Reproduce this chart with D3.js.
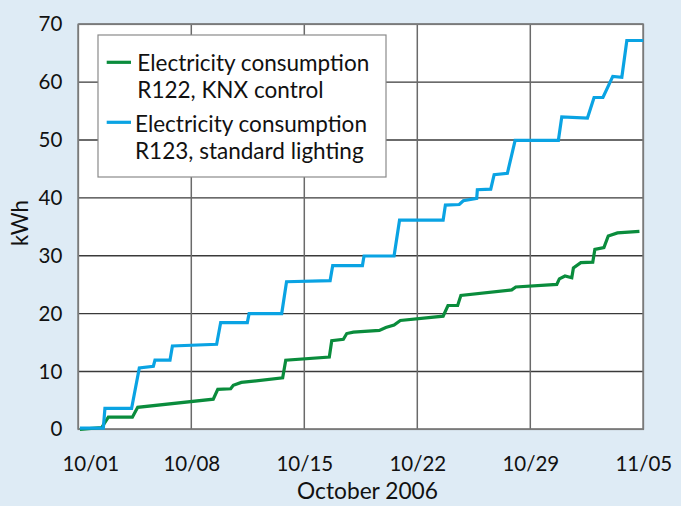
<!DOCTYPE html>
<html>
<head>
<meta charset="utf-8">
<script src="https://cdn.jsdelivr.net/npm/d3@7"></script>
<style>
  html, body { margin: 0; padding: 0; background: #deebf5; }
  svg { display: block; }
  text { font-family: Lato, "Open Sans", sans-serif; fill: #111; }
</style>
</head>
<body>
<svg id="chart" width="681" height="506"></svg>
<script>
// ---- data (days since 10/01 00:00, kWh) ----
const xTickDays = [0, 7, 14, 21, 28, 35];
const xTickLabels = ["10/01", "10/08", "10/15", "10/22", "10/29", "11/05"];
const yTicks = [0, 10, 20, 30, 40, 50, 60, 70];

const knxDays = [0.1, 1.45, 1.86, 3.35, 3.68, 8.36, 8.64, 9.44, 9.6, 10.1, 12.66, 12.85, 15.55, 15.7, 16.42, 16.63, 17.04, 18.65, 19.05, 19.56, 19.95, 22.6, 22.9, 23.5, 23.7, 26.85, 27.1, 29.64, 29.8, 30.15, 30.57, 30.67, 31.13, 31.87, 32.0, 32.56, 32.83, 33.4, 34.76];
const knxValues = [0, 0.3, 2.1, 2.1, 3.8, 5.2, 6.9, 7.0, 7.6, 8.1, 8.9, 11.95, 12.5, 15.3, 15.55, 16.55, 16.8, 17.1, 17.6, 18.0, 18.8, 19.55, 21.4, 21.4, 23.15, 24.1, 24.6, 25.05, 26.0, 26.5, 26.2, 27.9, 28.8, 28.9, 31.1, 31.4, 33.4, 33.95, 34.2];

const stdDays = [0.1, 1.55, 1.65, 3.3, 3.78, 4.65, 4.75, 5.68, 5.83, 8.57, 8.82, 10.47, 10.58, 12.6, 12.9, 15.6, 15.76, 17.6, 17.7, 19.56, 19.9, 22.6, 22.74, 23.6, 23.85, 24.68, 24.72, 25.55, 25.76, 26.58, 27.06, 29.74, 29.95, 31.54, 31.95, 32.5, 33.11, 33.67, 33.98, 35.0];
const stdValues = [0.2, 0.2, 3.6, 3.6, 10.6, 10.9, 11.95, 11.95, 14.4, 14.7, 18.45, 18.45, 20.0, 20.0, 25.5, 25.7, 28.3, 28.3, 29.95, 29.95, 36.15, 36.15, 38.75, 38.85, 39.5, 39.9, 41.4, 41.5, 44.0, 44.25, 49.95, 49.95, 54.0, 53.8, 57.35, 57.35, 61.0, 60.85, 67.2, 67.2];

const seriesNames = [
  ["Electricity consumption", "R122, KNX control"],
  ["Electricity consumption", "R123, standard lighting"]
];
const seriesColors = ["#0a8c3c", "#0aa3e3"];
const yLabel = "kWh";
const xTitle = "October 2006";

(function () {
const svg = d3.select("#chart");
const pL = 78.3, pR = 643.3, pT = 24.3, pB = 429.3;
const x = d3.scaleLinear().domain([0, 35]).range([pL, pR]);
const y = d3.scaleLinear().domain([0, 70]).range([pB, pT]);

function fit(sel, refNode, target) {
  sel.style("font-size", "20px");
  const w = refNode.getComputedTextLength();
  sel.style("font-size", (20 * target / w) + "px");
}

svg.append("rect").attr("x", pL).attr("y", pT)
  .attr("width", pR - pL).attr("height", pB - pT).attr("fill", "#fff");

// grid
const g = svg.append("g");
g.selectAll("line.h").data(yTicks).join("line")
  .attr("x1", pL).attr("x2", pR)
  .attr("y1", d => y(d)).attr("y2", d => y(d))
  .attr("stroke", "#3a3a3a").attr("stroke-width", 1.4);
g.selectAll("line.v").data(xTickDays).join("line")
  .attr("y1", pT).attr("y2", pB)
  .attr("x1", d => x(d)).attr("x2", d => x(d))
  .attr("stroke", "#6a6a6a").attr("stroke-width", 1.5);
svg.append("rect").attr("x", pL).attr("y", pT)
  .attr("width", pR - pL).attr("height", pB - pT)
  .attr("fill", "none").attr("stroke", "#7a7a7a").attr("stroke-width", 1.6);

// axes (labels only)
const yAxis = d3.axisLeft(y).tickValues(yTicks).tickSize(0).tickPadding(16);
const ya = svg.append("g").attr("transform", `translate(${pL},0)`).call(yAxis);
ya.select(".domain").remove();
ya.selectAll("text").style("font-family", "Lato, sans-serif").style("font-size", "20.5px").attr("fill", "#111");

const xAxis = d3.axisBottom(x).tickValues(xTickDays).tickSize(0).tickPadding(27)
  .tickFormat((d, i) => xTickLabels[i]);
const xa = svg.append("g").attr("transform", `translate(0,${pB})`).call(xAxis);
xa.select(".domain").remove();
xa.selectAll("text").style("font-family", "Lato, sans-serif").style("font-size", "20.5px").attr("fill", "#111")
  .attr("dx", (d, i) => i === 0 ? 12 : 0);

const tt = svg.append("text").attr("x", 367.5).attr("y", 499).attr("text-anchor", "middle").text(xTitle);
fit(tt, tt.node(), 141);
const kt = svg.append("text").attr("transform", "translate(28,223) rotate(-90)").attr("text-anchor", "middle").text(yLabel);
fit(kt, kt.node(), 46);

// lines
const line = d3.line().x(d => x(d[0])).y(d => y(d[1]));
const knx = knxDays.map((d, i) => [d, knxValues[i]]);
const std = stdDays.map((d, i) => [d, stdValues[i]]);
svg.append("path").datum(knx).attr("d", line).attr("fill", "none")
  .attr("stroke", seriesColors[0]).attr("stroke-width", 3.2).attr("stroke-linejoin", "miter");
svg.append("path").datum(std).attr("d", line).attr("fill", "none")
  .attr("stroke", seriesColors[1]).attr("stroke-width", 3.2).attr("stroke-linejoin", "miter");

// legend
const lg = svg.append("g");
lg.append("rect").attr("x", 98).attr("y", 35).attr("width", 288).attr("height", 142)
  .attr("fill", "#fff").attr("stroke", "#8a8a8a").attr("stroke-width", 1.2);
const entryY = [[70.5, 98], [131.5, 159]];
const swY = [62.3, 122.3];
const textX = [137.3, 135];
seriesNames.forEach((lines, i) => {
  lg.append("line").attr("x1", 106.7).attr("x2", 131).attr("y1", swY[i]).attr("y2", swY[i])
    .attr("stroke", seriesColors[i]).attr("stroke-width", 3.2);
  lines.forEach((t, j) => {
    lg.append("text").attr("class", "lt").attr("x", textX[i]).attr("y", entryY[i][j]).text(t);
  });
});
const lt = lg.selectAll("text.lt");
fit(lt, lt.node(), 232);
})();
</script>
</body>
</html>
